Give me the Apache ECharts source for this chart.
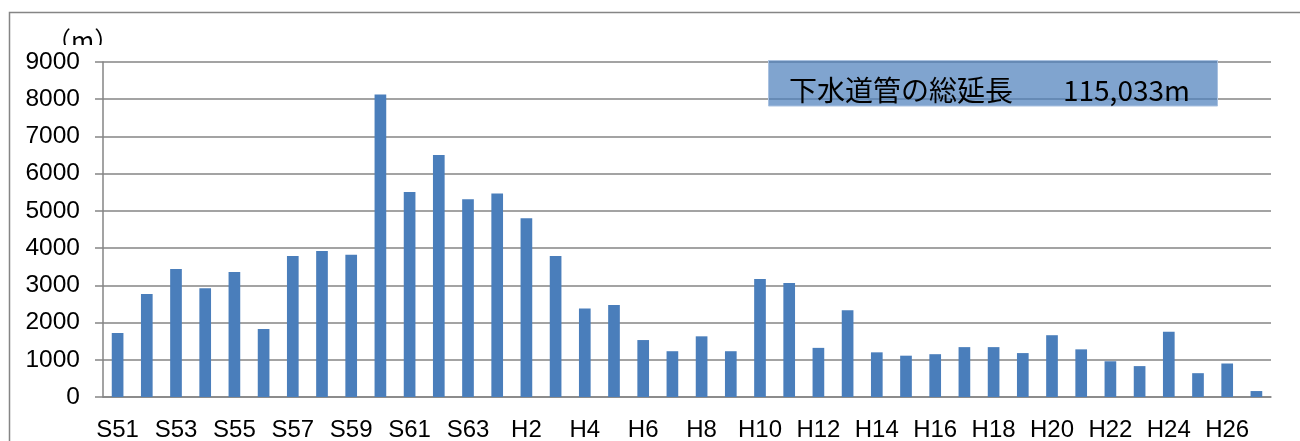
<!DOCTYPE html>
<html>
<head>
<meta charset="utf-8">
<script src="https://cdn.jsdelivr.net/npm/echarts@6/dist/echarts.min.js"></script>
<style>
  html, body { margin: 0; padding: 0; background: #fff; }
  #chart { width: 1300px; height: 441px; }
</style>
</head>
<body>
<div id="chart"></div>
<script>
// 年度 (S51 - H27)
var categories = [
    "S51", "S52", "S53", "S54", "S55", "S56", "S57", "S58", "S59", "S60",
    "S61", "S62", "S63", "H1", "H2", "H3", "H4", "H5", "H6", "H7",
    "H8", "H9", "H10", "H11", "H12", "H13", "H14", "H15", "H16", "H17",
    "H18", "H19", "H20", "H21", "H22", "H23", "H24", "H25", "H26", "H27"
];

// 年度別の整備延長 (m)
var lengths = [
    1720, 2770, 3440, 2920, 3360, 1830, 3790, 3920, 3820, 8130,
    5510, 6500, 5310, 5470, 4800, 3790, 2380, 2470, 1530, 1230,
    1630, 1230, 3170, 3060, 1320, 2330, 1200, 1110, 1150, 1340,
    1340, 1180, 1660, 1280, 960, 830, 1750, 640, 900, 160
];

var yMin = 0;
var yMax = 9000;
var yStep = 1000;

var unitLabel = "（m）";
var boxTitle = "下水道管の総延長";
var boxTotal = "115,033m";

var gray = "#858585";

var myChart = echarts.init(document.getElementById("chart"));

myChart.setOption({
    animation: false,
    grid: {
        left: 103,
        right: 29,
        top: 62,
        bottom: 44,
        outerBoundsMode: "none"
    },
    xAxis: {
        type: "category",
        data: categories,
        boundaryGap: true,
        axisLine: { lineStyle: { color: gray, width: 1.5 } },
        axisTick: { interval: 0, length: 8, lineStyle: { color: gray, width: 1.5 } },
        axisLabel: {
            interval: 1,
            margin: 21,
            color: "#000",
            fontSize: 24,
            fontFamily: "Liberation Sans, Arial, sans-serif"
        }
    },
    yAxis: {
        type: "value",
        min: yMin,
        max: yMax,
        interval: yStep,
        axisLine: { show: true, lineStyle: { color: gray, width: 1.5 } },
        axisTick: { show: true, length: 8, lineStyle: { color: gray, width: 1.5 } },
        splitLine: { lineStyle: { color: gray, width: 1.5 } },
        axisLabel: {
            margin: 23,
            color: "#000",
            fontSize: 24.5,
            fontFamily: "Liberation Sans, Arial, sans-serif",
            formatter: function (v) { return String(v); }
        }
    },
    series: [{
        type: "bar",
        data: lengths,
        barWidth: "40%",
        itemStyle: { color: "#4a7ebb" }
    }],
    graphic: [
        // 外枠
        {
            type: "rect",
            shape: { x: 9.5, y: 12.5, width: 1320, height: 460 },
            style: { fill: "none", stroke: gray, lineWidth: 1.5 },
            z: 0
        },
        // 単位 (上が切れている)
        {
            type: "text",
            style: {
                x: 46, y: 28,
                text: unitLabel,
                font: "25px 'Noto Sans CJK JP'",
                fill: "#000",
                align: "left",
                verticalAlign: "top"
            },
            z: 1
        },
        {
            type: "rect",
            shape: { x: 40, y: 45, width: 80, height: 7 },
            style: { fill: "#fff" },
            z: 2
        },
        // 総延長ボックス
        {
            type: "rect",
            shape: { x: 768.5, y: 60.5, width: 449, height: 45.5 },
            style: { fill: "rgba(79,129,189,0.72)", stroke: "#a9c1e0", lineWidth: 1 },
            z: 10
        },
        {
            type: "text",
            style: {
                x: 789, y: 90,
                text: "{jp|" + boxTitle + "}{num|" + boxTotal + "}",
                fill: "#000",
                align: "left",
                verticalAlign: "middle",
                rich: {
                    jp: { font: "28px 'Noto Sans CJK JP'", fill: "#000" },
                    num: { font: "28px 'Noto Sans CJK JP'", fill: "#000", padding: [0, 0, 0, 50] }
                }
            },
            z: 11
        }
    ]
});
</script>
</body>
</html>
